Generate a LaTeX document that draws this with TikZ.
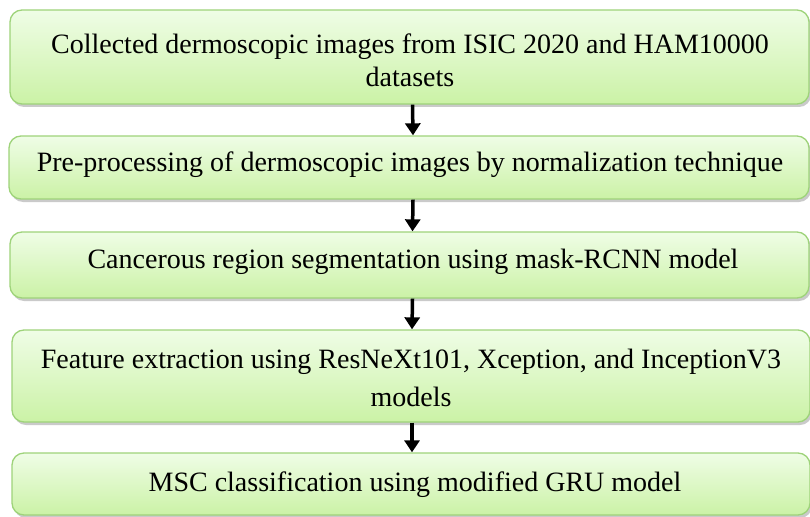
\documentclass[tikz,border=0pt]{standalone}
\usepackage{fontspec}
\setmainfont{Liberation Serif}
\usetikzlibrary{arrows.meta,shadows}
\definecolor{boxtop}{HTML}{EFFDE6}
\definecolor{boxbot}{HTML}{CBF2A6}
\definecolor{boxedge}{HTML}{9ED37A}
\begin{document}
\begin{tikzpicture}[x=1pt,y=-1pt,
  stage/.style={draw=boxedge, line width=1.3pt, rounded corners=12pt,
    top color=boxtop, bottom color=boxbot,
    drop shadow={shadow xshift=2pt, shadow yshift=-3pt, opacity=0.35, fill=black!60}},
  label/.style={align=center, inner sep=0pt, font=\fontsize{28}{33}\selectfont},
  flow/.style={line width=3.5pt, -{Triangle[width=15pt,length=12pt]}}]
\useasboundingbox (0,0) rectangle (810,516);
\node[stage, minimum width=799pt, minimum height=94pt] (b1) at (409.5,57) {};
\node[stage, minimum width=800pt, minimum height=63pt] (b2) at (409,167.5) {};
\node[stage, minimum width=799pt, minimum height=66pt] (b3) at (409.5,265) {};
\node[stage, minimum width=798pt, minimum height=92pt] (b4) at (411,376) {};
\node[stage, minimum width=798pt, minimum height=62pt] (b5) at (411,484) {};
\node[label] (t1) at (410,60) {Collected dermoscopic images from ISIC 2020 and HAM10000\\datasets};
\node[label] (t2) at (410,165) {Pre-processing of dermoscopic images by normalization technique};
\node[label] (t3) at (413,262) {Cancerous region segmentation using mask-RCNN model};
\node[label, font=\fontsize{28}{38}\selectfont] (t4) at (411,377.5) {Feature extraction using ResNeXt101, Xception, and InceptionV3\\models};
\node[label] (t5) at (415,485) {MSC classification using modified GRU model};
\draw[flow] ([xshift=3pt]b1.south) -- ([xshift=4pt]b2.north);
\draw[flow] ([xshift=4pt]b2.south) -- ([xshift=3pt]b3.north);
\draw[flow] ([xshift=3pt]b3.south) -- ([xshift=1pt]b4.north);
\draw[flow] ([xshift=1pt]b4.south) -- ([xshift=1pt]b5.north);
\end{tikzpicture}
\end{document}
